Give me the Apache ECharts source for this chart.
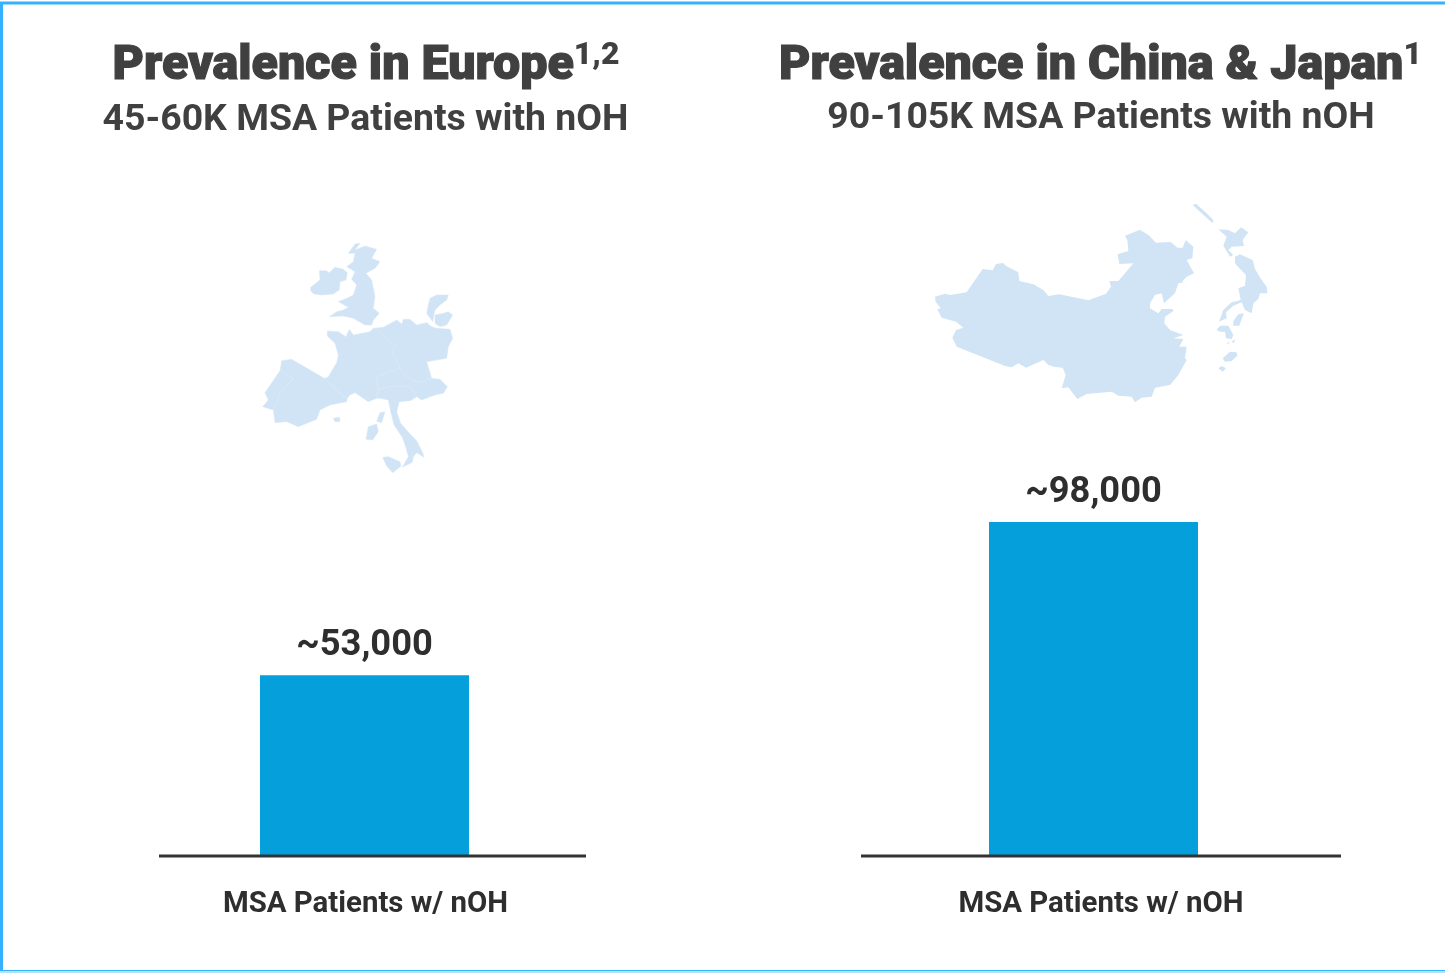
<!DOCTYPE html>
<html>
<head>
<meta charset="utf-8">
<style>html,body{margin:0;padding:0;background:#fff;}#chart{width:1445px;height:973px;}</style>
<script src="https://cdn.jsdelivr.net/npm/echarts@6/dist/echarts.min.js"></script>
</head>
<body>
<div id="chart"></div>
<script>
// Patient counts shown as the two bars
const regionCategories = ['MSA Patients w/ nOH'];
const europeValues = [53000];
const asiaValues = [98000];
const valueAxisMax = 120000;

// Panel headings
const headings = ['Prevalence in Europe', 'Prevalence in China & Japan'];
const footnotes = ['1,2', '1'];
const subheadings = ['45-60K MSA Patients with nOH', '90-105K MSA Patients with nOH'];

// Map outlines, in thirds of a pixel relative to each map's origin
const portugal = [[120,422],[160,445],[120,490],[100,540],[68,530],[85,510],[75,488]];
const spain = [[125,392],[155,388],[250,443],[255,445],[300,490],[322,505],[320,515],[270,525],[240,540],[230,568],[175,590],[140,575],[105,578],[100,540],[120,490],[160,445],[120,422]];
const france = [[255,445],[265,440],[290,398],[295,375],[285,340],[262,318],[262,303],[295,305],[318,320],[328,298],[340,315],[390,305],[400,295],[410,300],[470,350],[455,360],[480,415],[410,440],[415,480],[410,505],[385,515],[345,488],[330,495],[322,505],[300,490]];
const germany = [[400,295],[430,292],[470,270],[485,282],[490,268],[510,268],[530,285],[560,278],[575,290],[590,295],[630,298],[638,325],[625,350],[620,385],[560,395],[575,445],[540,460],[500,440],[480,415],[455,360],[470,350],[410,300]];
const alpine = [[480,415],[500,440],[540,460],[575,445],[600,448],[622,470],[610,490],[585,495],[545,510],[530,500],[510,470],[450,470],[415,480],[410,440]];
const italy = [[410,505],[415,480],[450,470],[510,470],[530,500],[512,512],[478,515],[470,545],[482,580],[510,612],[530,632],[548,668],[552,682],[530,668],[520,680],[517,697],[487,712],[505,680],[497,650],[487,622],[462,585],[452,545],[445,510],[420,505]];
const sicily = [[428,682],[445,680],[480,695],[483,708],[458,728],[440,708]];
const sardinia = [[378,628],[385,590],[410,582],[415,605],[398,630]];
const corsica = [[410,574],[420,548],[435,545],[425,578]];
const mallorca = [[280,565],[298,562],[300,575],[285,575]];
const ireland = [[212,172],[240,150],[238,122],[258,122],[268,128],[285,112],[310,118],[322,128],[318,150],[300,155],[298,180],[280,192],[245,195],[222,192],[212,182]];
const britain = [[345,42],[360,40],[345,60],[375,48],[410,58],[395,85],[420,95],[405,115],[378,130],[395,150],[405,200],[400,235],[418,250],[400,270],[395,285],[375,285],[340,265],[310,258],[268,260],[290,245],[310,240],[325,232],[295,215],[320,205],[340,195],[350,165],[335,148],[345,125],[320,110],[340,95],[345,70],[325,70]];
const jutland = [[565,225],[570,205],[590,195],[625,195],[620,210],[600,225],[585,240],[578,275],[560,250]];
const zealand = [[585,255],[610,250],[625,245],[638,255],[620,285],[600,290],[585,280]];

const china = [[45,305],[75,296],[90,300],[140,292],[188,222],[218,226],[228,207],[248,204],[260,214],[295,232],[298,258],[340,268],[370,285],[385,303],[418,298],[505,316],[558,296],[573,275],[568,258],[595,258],[615,235],[640,205],[598,207],[593,178],[625,168],[622,135],[615,122],[660,104],[685,120],[708,143],[752,141],[772,158],[788,158],[797,135],[820,155],[817,190],[800,195],[822,235],[800,245],[785,262],[800,262],[775,265],[765,295],[732,325],[725,295],[705,300],[690,325],[690,340],[715,355],[725,342],[758,342],[760,348],[735,365],[733,385],[750,405],[790,420],[760,430],[790,432],[778,455],[800,455],[795,490],[800,495],[775,540],[750,570],[705,578],[695,605],[665,608],[645,622],[635,605],[595,602],[575,590],[500,597],[472,612],[445,577],[425,580],[437,540],[428,518],[405,516],[385,510],[370,495],[318,518],[295,505],[275,517],[255,513],[110,455],[97,428],[108,405],[130,398],[108,380],[65,368],[52,343],[62,340],[47,320]];
const sakhalin = [[818,30],[828,26],[860,55],[880,75],[878,85],[845,55]];
const hokkaido = [[895,103],[925,105],[945,115],[963,97],[985,112],[968,135],[972,153],[935,155],[925,165],[940,180],[930,185],[910,152],[920,125]];
const honshu = [[945,185],[960,178],[998,195],[1005,222],[1025,255],[1040,275],[1042,295],[1020,295],[1015,312],[1000,325],[995,355],[975,345],[965,322],[940,332],[918,352],[920,370],[897,380],[910,345],[935,322],[962,315],[955,280],[975,272],[978,240],[958,220],[945,205]];
const shikoku = [[940,378],[955,358],[972,355],[965,372],[958,392],[940,392]];
const kyushu = [[890,405],[900,392],[925,392],[940,420],[935,432],[918,430],[915,410],[900,410]];
const tsushima = [[920,445],[930,440],[925,447]];
const iki = [[935,440],[945,432],[942,445]];
const amami = [[908,490],[930,470],[950,472],[952,482],[935,498],[915,500]];
const okinawa = [[895,520],[905,513],[918,520],[908,530]];

const europeShapes = { Portugal: [portugal], Spain: [spain, mallorca], France: [france, corsica], Germany: [germany, jutland, zealand], Alps: [alpine], Italy: [italy, sicily, sardinia], Ireland: [ireland], Britain: [britain] };
const asiaShapes = { China: [china], Japan: [sakhalin, hokkaido, honshu, shikoku, kyushu, tsushima, iki, amami, okinawa] };

// Wrap outlines as a GeoJSON collection and report their extent
function toGeo(shapes) {
  let x0 = Infinity, y0 = Infinity, x1 = -Infinity, y1 = -Infinity;
  const features = Object.keys(shapes).map(name => {
    const rings = shapes[name].map(r => {
      r.forEach(p => { x0 = Math.min(x0, p[0]); x1 = Math.max(x1, p[0]); y0 = Math.min(y0, p[1]); y1 = Math.max(y1, p[1]); });
      return [r.concat([r[0]])];
    });
    return { type: 'Feature', properties: { name }, geometry: { type: 'MultiPolygon', coordinates: rings } };
  });
  return { geojson: { type: 'FeatureCollection', features }, box: { x0, y0, x1, y1 } };
}

const flat = { project: p => p, unproject: p => p };
function geoBlock(mapName, shapes, originX, originY, borderColor, borderWidth) {
  const g = toGeo(shapes);
  echarts.registerMap(mapName, g.geojson);
  return {
    map: mapName, projection: flat, silent: true, roam: false, z: 1,
    left: originX + g.box.x0 / 3, top: originY + g.box.y0 / 3,
    width: (g.box.x1 - g.box.x0) / 3, height: (g.box.y1 - g.box.y0) / 3,
    label: { show: false },
    itemStyle: { areaColor: '#d0e4f5', borderColor, borderWidth }
  };
}

const FONT = 'Roboto';
const INK = '#404040';
const DARK = '#2e2e2e';
const BAR = '#05a0db';

function headingBlock(i, centerX, top) {
  return {
    left: centerX, top, textAlign: 'center', padding: 0,
    text: '{m|' + headings[i] + '}{s|' + footnotes[i] + '}',
    textStyle: {
      rich: {
        m: { fontFamily: FONT, fontWeight: 900, fontSize: 48.4, lineHeight: 54, color: INK, textBorderColor: INK, textBorderWidth: 1.2 },
        s: { fontFamily: FONT, fontWeight: 900, fontSize: 32, lineHeight: 54, color: INK, padding: [0, 0, 22, 0] }
      }
    }
  };
}
function subheadingBlock(i, centerX, top) {
  return {
    left: centerX, top, textAlign: 'center', padding: 0, text: subheadings[i],
    textStyle: { fontFamily: FONT, fontWeight: 700, fontSize: 37.4, lineHeight: 42, color: INK }
  };
}
function barSeries(values, idx) {
  return {
    type: 'bar', data: values, xAxisIndex: idx, yAxisIndex: idx, barWidth: 209, z: 2,
    itemStyle: { color: BAR },
    label: {
      show: true, position: 'top', distance: 11, color: DARK, fontFamily: FONT, fontWeight: 700, fontSize: 36.3,
      formatter: p => '~' + p.value.toLocaleString('en-US')
    }
  };
}
function categoryAxis(idx, labelShift) {
  return {
    type: 'category', gridIndex: idx, data: regionCategories,
    axisLine: { show: false }, axisTick: { show: false },
    axisLabel: { color: DARK, fontFamily: FONT, fontWeight: 700, fontSize: 29.4, margin: 34, padding: [0, 0, 0, labelShift] }
  };
}
function valueAxis(idx) {
  return { type: 'value', gridIndex: idx, min: 0, max: valueAxisMax, show: false, splitLine: { show: false } };
}

const chart = echarts.init(document.getElementById('chart'), null, { renderer: 'canvas' });
chart.setOption({
  backgroundColor: '#ffffff',
  animation: false,
  title: [
    headingBlock(0, 366, 40),
    subheadingBlock(0, 365.5, 100),
    headingBlock(1, 1100.5, 40),
    subheadingBlock(1, 1101, 98)
  ],
  geo: [
    geoBlock('europe', europeShapes, 240, 230, '#d9e9f7', 0.5),
    geoBlock('eastAsia', asiaShapes, 920, 195, '#d0e4f5', 0)
  ],
  grid: [
    { left: 160, width: 409, top: 447, height: 409 },
    { left: 889, width: 409, top: 447, height: 409 }
  ],
  xAxis: [categoryAxis(0, 2), categoryAxis(1, 15)],
  yAxis: [valueAxis(0), valueAxis(1)],
  series: [barSeries(europeValues, 0), barSeries(asiaValues, 1)],
  graphic: [
    // Baselines run wider than the bars, off-centre from them
    { type: 'line', z: 10, shape: { x1: 159, y1: 856, x2: 586, y2: 856 }, style: { stroke: '#333333', lineWidth: 3 } },
    { type: 'line', z: 10, shape: { x1: 861, y1: 856, x2: 1341, y2: 856 }, style: { stroke: '#333333', lineWidth: 3 } },
    // Panel frame
    { type: 'rect', z: 0, shape: { x: 1.5, y: 3, width: 1500, height: 968.5 }, style: { fill: 'none', stroke: '#35b1ff', lineWidth: 3 } },
    { type: 'line', z: 0, shape: { x1: 0, y1: 972, x2: 1445, y2: 972 }, style: { stroke: '#b3e3ff', lineWidth: 2 } }
  ]
});
</script>
</body>
</html>
